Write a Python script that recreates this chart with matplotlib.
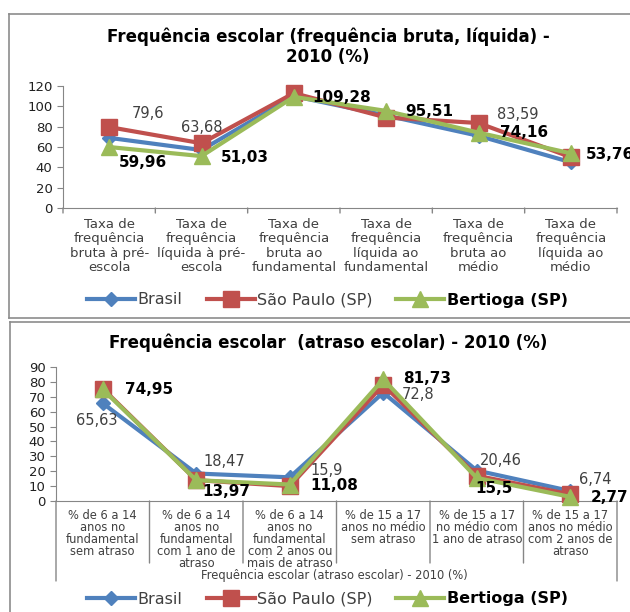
import numpy as np
import matplotlib.pyplot as plt
from matplotlib.lines import Line2D

# top chart data
cats1 = ['Taxa de\nfrequência\nbruta à pré-\nescola', 'Taxa de\nfrequência\nlíquida à pré-\nescola',
         'Taxa de\nfrequência\nbruta ao\nfundamental', 'Taxa de\nfrequência\nlíquida ao\nfundamental',
         'Taxa de\nfrequência\nbruta ao\nmédio', 'Taxa de\nfrequência\nlíquida ao\nmédio']
brasil1 = [69, 57, 110, 91, 71, 45]
sp1 = [79.6, 63.68, 113, 89, 83.59, 50]
bert1 = [59.96, 51.03, 109.28, 95.51, 74.16, 53.76]

# bottom chart data
cats2 = ['% de 6 a 14\nanos no\nfundamental\nsem atraso', '% de 6 a 14\nanos no\nfundamental\ncom 1 ano de\natraso',
         '% de 6 a 14\nanos no\nfundamental\ncom 2 anos ou\nmais de atraso', '% de 15 a 17\nanos no médio\nsem atraso',
         '% de 15 a 17\nno médio com\n1 ano de atraso', '% de 15 a 17\nanos no médio\ncom 2 anos de\natraso']
brasil2 = [65.63, 18.47, 15.9, 72.8, 20.46, 6.74]
sp2 = [75.5, 14, 10, 78, 17, 4.5]
bert2 = [74.95, 13.97, 11.08, 81.73, 15.5, 2.77]

blue = '#4F81BD'
red = '#C0504D'
green = '#9BBB59'
gray_txt = '#404040'

fig = plt.figure(figsize=(6.3, 6.12), dpi=100)

# frames
fl = dict(color='#8c8c8c', lw=1.2, transform=fig.transFigure)
fig.add_artist(Line2D([9/630, 9/630], [1-14/612, 1-318/612], **fl))
fig.add_artist(Line2D([9/630, 1], [1-14/612, 1-14/612], **fl))
fig.add_artist(Line2D([9/630, 1], [1-318/612, 1-318/612], **fl))
fig.add_artist(Line2D([10/630, 10/630], [1-322/612, 0], **fl))
fig.add_artist(Line2D([10/630, 1], [1-322/612, 1-322/612], **fl))


def draw(ax, x, brasil, sp, bert, lw=3):
    ax.plot(x, brasil, color=blue, lw=lw, marker='D', ms=7.5, clip_on=False, zorder=3)
    ax.plot(x, sp, color=red, lw=lw, marker='s', ms=11, clip_on=False, zorder=4)
    ax.plot(x, bert, color=green, lw=lw, marker='^', ms=11, clip_on=False, zorder=5)
    ax.set_xlim(-0.5, 5.5)
    for s in ['top', 'right']:
        ax.spines[s].set_visible(False)
    for s in ['left', 'bottom']:
        ax.spines[s].set_color('#868686')
    ax.tick_params(axis='y', colors='#868686', labelcolor='#202020', labelsize=9.5, length=4)


def lab(ax, x, y, txt, dx, dy, bold=False, ha='center'):
    ax.annotate(txt, (x, y), xytext=(dx, dy), textcoords='offset pixels',
                ha=ha, va='center', fontsize=11 if bold else 10.5,
                fontweight='bold' if bold else 'normal',
                color='black' if bold else gray_txt, zorder=6, annotation_clip=False)


x = np.arange(6)

# ---- top chart
ax1 = fig.add_axes([63/630, 1-208/612, (617-63)/630, 122/612])
draw(ax1, x, brasil1, sp1, bert1)
ax1.set_ylim(0, 120)
ax1.set_yticks(range(0, 121, 20))
ax1.set_xticks(x)
ax1.set_xticklabels(cats1, fontsize=9.5, color=gray_txt, linespacing=1.15)
ax1.tick_params(axis='x', length=0, pad=7)
for b in np.arange(-0.5, 6, 1):
    ax1.annotate('', xy=(b, 0), xytext=(0, -5), textcoords='offset pixels',
                 arrowprops=dict(arrowstyle='-', color='#868686', lw=1,
                                 shrinkA=0, shrinkB=0), annotation_clip=False)
fig.text(0.521, 1-37/612, 'Frequência escolar (frequência bruta, líquida) -', ha='center', va='center',
         fontsize=12, fontweight='bold')
fig.text(0.521, 1-57/612, '2010 (%)', ha='center', va='center', fontsize=12, fontweight='bold')

lab(ax1, 0, sp1[0], '79,6', 39, 14)
lab(ax1, 1, sp1[1], '63,68', 0, 16)
lab(ax1, 0, bert1[0], '59,96', 34, -15, True)
lab(ax1, 1, bert1[1], '51,03', 43, -1, True)
lab(ax1, 2, bert1[2], '109,28', 48, -1, True)
lab(ax1, 3, bert1[3], '95,51', 43, -1, True)
lab(ax1, 4, sp1[4], '83,59', 39, 9)
lab(ax1, 4, bert1[4], '74,16', 46, 0, True)
lab(ax1, 5, bert1[5], '53,76', 15, -1, True, ha='left')

# ---- bottom chart
ax2 = fig.add_axes([56/630, 1-501/612, (617-56)/630, 134/612])
draw(ax2, x, brasil2, sp2, bert2)
ax2.set_ylim(0, 90)
ax2.set_yticks(range(0, 91, 10))
ax2.set_xticks(x)
ax2.set_xticklabels(cats2, fontsize=8.3, color=gray_txt, linespacing=0.9, va='top')
ax2.tick_params(axis='x', length=0, pad=6)
for i, b in enumerate(np.arange(-0.5, 6, 1)):
    depth = 80 if i in (0, 6) else 62
    ax2.annotate('', xy=(b, 0), xytext=(0, -depth), textcoords='offset pixels',
                 arrowprops=dict(arrowstyle='-', color='#868686', lw=1,
                                 shrinkA=0, shrinkB=0), annotation_clip=False)
fig.text(0.53, 1-576/612, 'Frequência escolar (atraso escolar) - 2010 (%)', ha='center', va='center',
         fontsize=8.3, color=gray_txt)
fig.text(0.521, 1-343/612, 'Frequência escolar  (atraso escolar) - 2010 (%)', ha='center', va='center',
         fontsize=12, fontweight='bold')

lab(ax2, 0, bert2[0], '74,95', 46, 0, True)
lab(ax2, 0, brasil2[0], '65,63', -6, -17)
lab(ax2, 1, brasil2[1], '18,47', 28, 12)
lab(ax2, 1, bert2[1], '13,97', 30, -11, True)
lab(ax2, 2, brasil2[2], '15,9', 37, 7)
lab(ax2, 2, bert2[2], '11,08', 45, -1, True)
lab(ax2, 3, bert2[3], '81,73', 44, 1, True)
lab(ax2, 3, brasil2[3], '72,8', 35, -2)
lab(ax2, 4, brasil2[4], '20,46', 24, 10)
lab(ax2, 4, bert2[4], '15,5', 17, -11, True)
lab(ax2, 5, brasil2[5], '6,74', 25, 11)
lab(ax2, 5, bert2[5], '2,77', 20, -1, True, ha='left')

# legends
handles = [Line2D([], [], color=blue, lw=3, marker='D', ms=7.5),
           Line2D([], [], color=red, lw=3, marker='s', ms=11),
           Line2D([], [], color=green, lw=3, marker='^', ms=11)]
names = ['Brasil', 'São Paulo (SP)', 'Bertioga (SP)']
for yy in (1-300/612, 1-599/612):
    leg = fig.legend(handles, names, loc='center', bbox_to_anchor=(0.52, yy), ncol=3, frameon=False,
                     fontsize=11.5, handlelength=3, handletextpad=0.15, columnspacing=1.5)
    for t in leg.get_texts():
        t.set_color(gray_txt)
    leg.get_texts()[2].set_fontweight('bold')
    leg.get_texts()[2].set_color('black')

fig.savefig('out.png', dpi=100)
